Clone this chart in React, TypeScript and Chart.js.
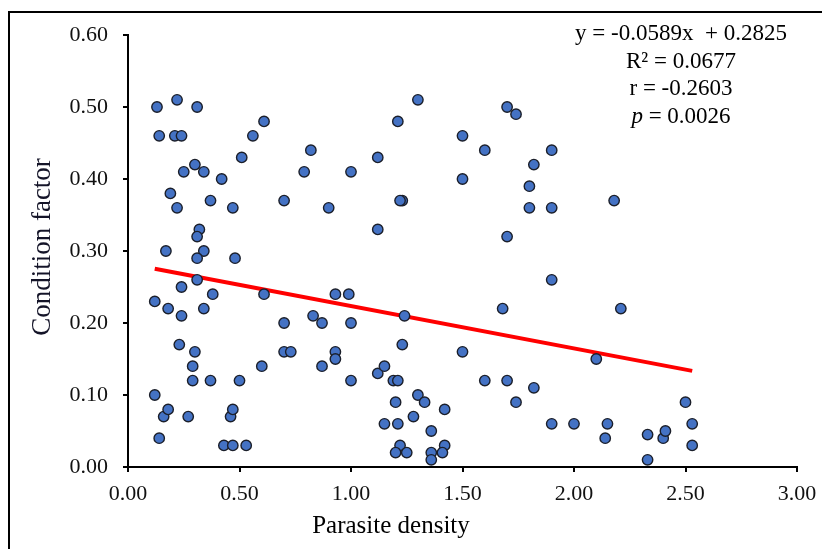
import React, { useEffect, useRef } from "react";
import { Chart, registerables } from "chart.js";

Chart.register(...registerables);

const parasiteDensity: number[] = [
  0.13, 0.14, 0.22, 0.31, 0.21, 0.24, 0.30, 0.25, 0.34, 0.42, 0.19, 0.22, 0.37, 0.47, 0.51, 0.56, 0.61, 0.32, 0.31, 0.17, 0.34, 0.31, 0.48, 0.12, 0.31, 0.24, 0.38, 0.18, 0.34, 0.24, 0.61, 0.23, 0.30, 0.29, 0.29, 0.37, 0.50, 0.60, 0.12, 0.16, 0.18, 0.27, 0.14, 0.46, 0.47, 0.43, 0.47, 0.53,
  0.70, 0.79, 0.82, 0.90, 1.00, 0.70, 0.70, 0.73, 0.83, 0.87, 0.93, 0.99, 1.00, 0.93, 0.93, 0.87, 1.00,
  1.12, 1.12, 1.21, 1.23, 1.22, 1.24, 1.23, 1.30, 1.12, 1.15, 1.19, 1.21, 1.20, 1.15, 1.21, 1.22, 1.20, 1.25, 1.28, 1.30, 1.33, 1.36, 1.36, 1.36, 1.42, 1.42, 1.41,
  1.50, 1.50, 1.60, 1.50, 1.60, 1.70, 1.74, 1.70, 1.68, 1.70, 1.74, 1.80, 1.82, 1.80, 1.90, 1.90, 1.90, 1.82, 1.90, 2.00,
  2.18, 2.21, 2.10, 2.15, 2.14, 2.33, 2.33, 2.40, 2.41, 2.50, 2.53, 2.53,
];

const conditionFactor: number[] = [
  0.50, 0.46, 0.51, 0.50, 0.46, 0.46, 0.42, 0.41, 0.41, 0.40, 0.38, 0.36, 0.37, 0.36, 0.43, 0.46, 0.48, 0.33, 0.32, 0.30, 0.30, 0.29, 0.29, 0.23, 0.26, 0.25, 0.24, 0.22, 0.22, 0.21, 0.24, 0.17, 0.16, 0.14, 0.12, 0.12, 0.12, 0.14, 0.10, 0.07, 0.08, 0.07, 0.04, 0.07, 0.08, 0.03, 0.03, 0.03,
  0.37, 0.41, 0.44, 0.36, 0.41, 0.20, 0.16, 0.16, 0.21, 0.20, 0.24, 0.24, 0.20, 0.16, 0.15, 0.14, 0.12,
  0.43, 0.33, 0.48, 0.37, 0.37, 0.21, 0.17, 0.51, 0.13, 0.14, 0.12, 0.12, 0.09, 0.06, 0.06, 0.03, 0.02, 0.02, 0.07, 0.10, 0.09, 0.05, 0.02, 0.01, 0.08, 0.03, 0.02,
  0.46, 0.40, 0.44, 0.16, 0.12, 0.50, 0.49, 0.32, 0.22, 0.12, 0.09, 0.39, 0.42, 0.36, 0.44, 0.36, 0.26, 0.11, 0.06, 0.06,
  0.37, 0.22, 0.15, 0.06, 0.04, 0.045, 0.01, 0.04, 0.05, 0.09, 0.06, 0.03,
];

const trendX: number[] = [0.12, 2.53];
const trendY: number[] = [0.2754, 0.1335];

const xTicks: number[] = [0, 0.5, 1, 1.5, 2, 2.5, 3];
const yTicks: number[] = [0, 0.1, 0.2, 0.3, 0.4, 0.5, 0.6];

const annotationLines: string[] = [
  "y = -0.0589x  + 0.2825",
  "R² = 0.0677",
  "r = -0.2603",
  "= 0.0026",
];
const xTitle = "Parasite density";
const yTitle = "Condition factor";

const FONT = "'Liberation Serif', 'Times New Roman', serif";

const textPlugin = {
  id: "texts",
  afterDraw(chart: any) {
    const { ctx, chartArea } = chart;
    ctx.save();
    ctx.fillStyle = "#000";
    // x title
    ctx.font = `25px ${FONT}`;
    ctx.textAlign = "center";
    ctx.textBaseline = "middle";
    ctx.fillText(xTitle, chartArea.left + 263, chartArea.bottom + 59);
    // y title
    ctx.save();
    ctx.translate(chartArea.left - 85, (chartArea.top + chartArea.bottom) / 2 - 4);
    ctx.rotate(-Math.PI / 2);
    ctx.font = `27px ${FONT}`;
    ctx.fillStyle = "#141428";
    ctx.fillText(yTitle, 0, 0);
    ctx.restore();
    // annotation
    const cx = chartArea.right - 116;
    const y0 = chartArea.top - 1;
    const step = 27.5;
    ctx.font = `23px ${FONT}`;
    for (let i = 0; i < 3; i++) {
      ctx.textAlign = "center";
      ctx.fillText(annotationLines[i], cx, y0 + i * step);
    }
    // p line with italic p
    const italic = `italic 23px ${FONT}`;
    const normal = `23px ${FONT}`;
    ctx.font = italic;
    const pw = ctx.measureText("p ").width;
    ctx.font = normal;
    const rw = ctx.measureText(annotationLines[3]).width;
    const startX = cx - (pw + rw) / 2;
    ctx.textAlign = "left";
    ctx.font = italic;
    ctx.fillText("p ", startX, y0 + 3 * step);
    ctx.font = normal;
    ctx.fillText(annotationLines[3], startX + pw, y0 + 3 * step);
    ctx.restore();
  },
};

export default function App() {
  const ref = useRef<HTMLCanvasElement | null>(null);
  useEffect(() => {
    if (!ref.current) return;
    const points = parasiteDensity.map((x, i) => ({ x, y: conditionFactor[i] }));
    const trend = trendX.map((x, i) => ({ x, y: trendY[i] }));
    const chart = new Chart(ref.current, {
      type: "scatter",
      data: {
        datasets: [
          {
            label: "Condition factor",
            data: points,
            backgroundColor: "#4472C4",
            borderColor: "#1b1f2a",
            borderWidth: 1.4,
            pointRadius: 5.2,
            order: 0,
          },
          {
            type: "line",
            label: "Trend",
            data: trend,
            borderColor: "#FF0000",
            borderWidth: 4,
            pointRadius: 0,
            showLine: true,
            fill: false,
            order: 1,
          } as any,
        ],
      },
      options: {
        animation: false,
        responsive: false,
        layout: { padding: { top: 35, right: 25, left: 0, bottom: 0 } },
        plugins: { legend: { display: false }, tooltip: { enabled: false } },
        scales: {
          x: {
            type: "linear",
            min: 0,
            max: 3,
            afterFit: (s: any) => { s.height = 82; s.paddingRight = 0; s.paddingLeft = 0; },
            afterBuildTicks: (s: any) => { s.ticks = xTicks.map((v) => ({ value: v })); },
            border: { display: true, color: "#000", width: 2 },
            grid: { display: true, drawOnChartArea: false, drawTicks: true, tickLength: 5, color: "#000", lineWidth: 2 },
            ticks: {
              color: "#111",
              font: { family: FONT, size: 22 },
              padding: 9,
              maxRotation: 0,
              callback: (v: any) => Number(v).toFixed(2),
            },
          },
          y: {
            type: "linear",
            min: 0,
            max: 0.6,
            afterFit: (s: any) => { s.width = 128; s.paddingTop = 0; s.paddingBottom = 0; },
            afterBuildTicks: (s: any) => { s.ticks = yTicks.map((v) => ({ value: v })); },
            border: { display: true, color: "#000", width: 2 },
            grid: { display: true, drawOnChartArea: false, drawTicks: true, tickLength: 5, color: "#000", lineWidth: 2 },
            ticks: {
              color: "#111",
              font: { family: FONT, size: 22 },
              padding: 15,
              callback: (v: any) => Number(v).toFixed(2),
            },
          },
        },
      },
      plugins: [textPlugin],
    });
    return () => chart.destroy();
  }, []);

  return (
    <div style={{ position: "fixed", left: 0, top: 0, width: 822, height: 549, overflow: "hidden", background: "#fff" }}>
      <div style={{ position: "absolute", left: 8, top: 11, width: 900, height: 700, borderLeft: "2px solid #000", borderTop: "2px solid #000" }} />
      <canvas ref={ref} width={822} height={549} style={{ position: "absolute", left: 0, top: 0, display: "block" }} />
    </div>
  );
}
